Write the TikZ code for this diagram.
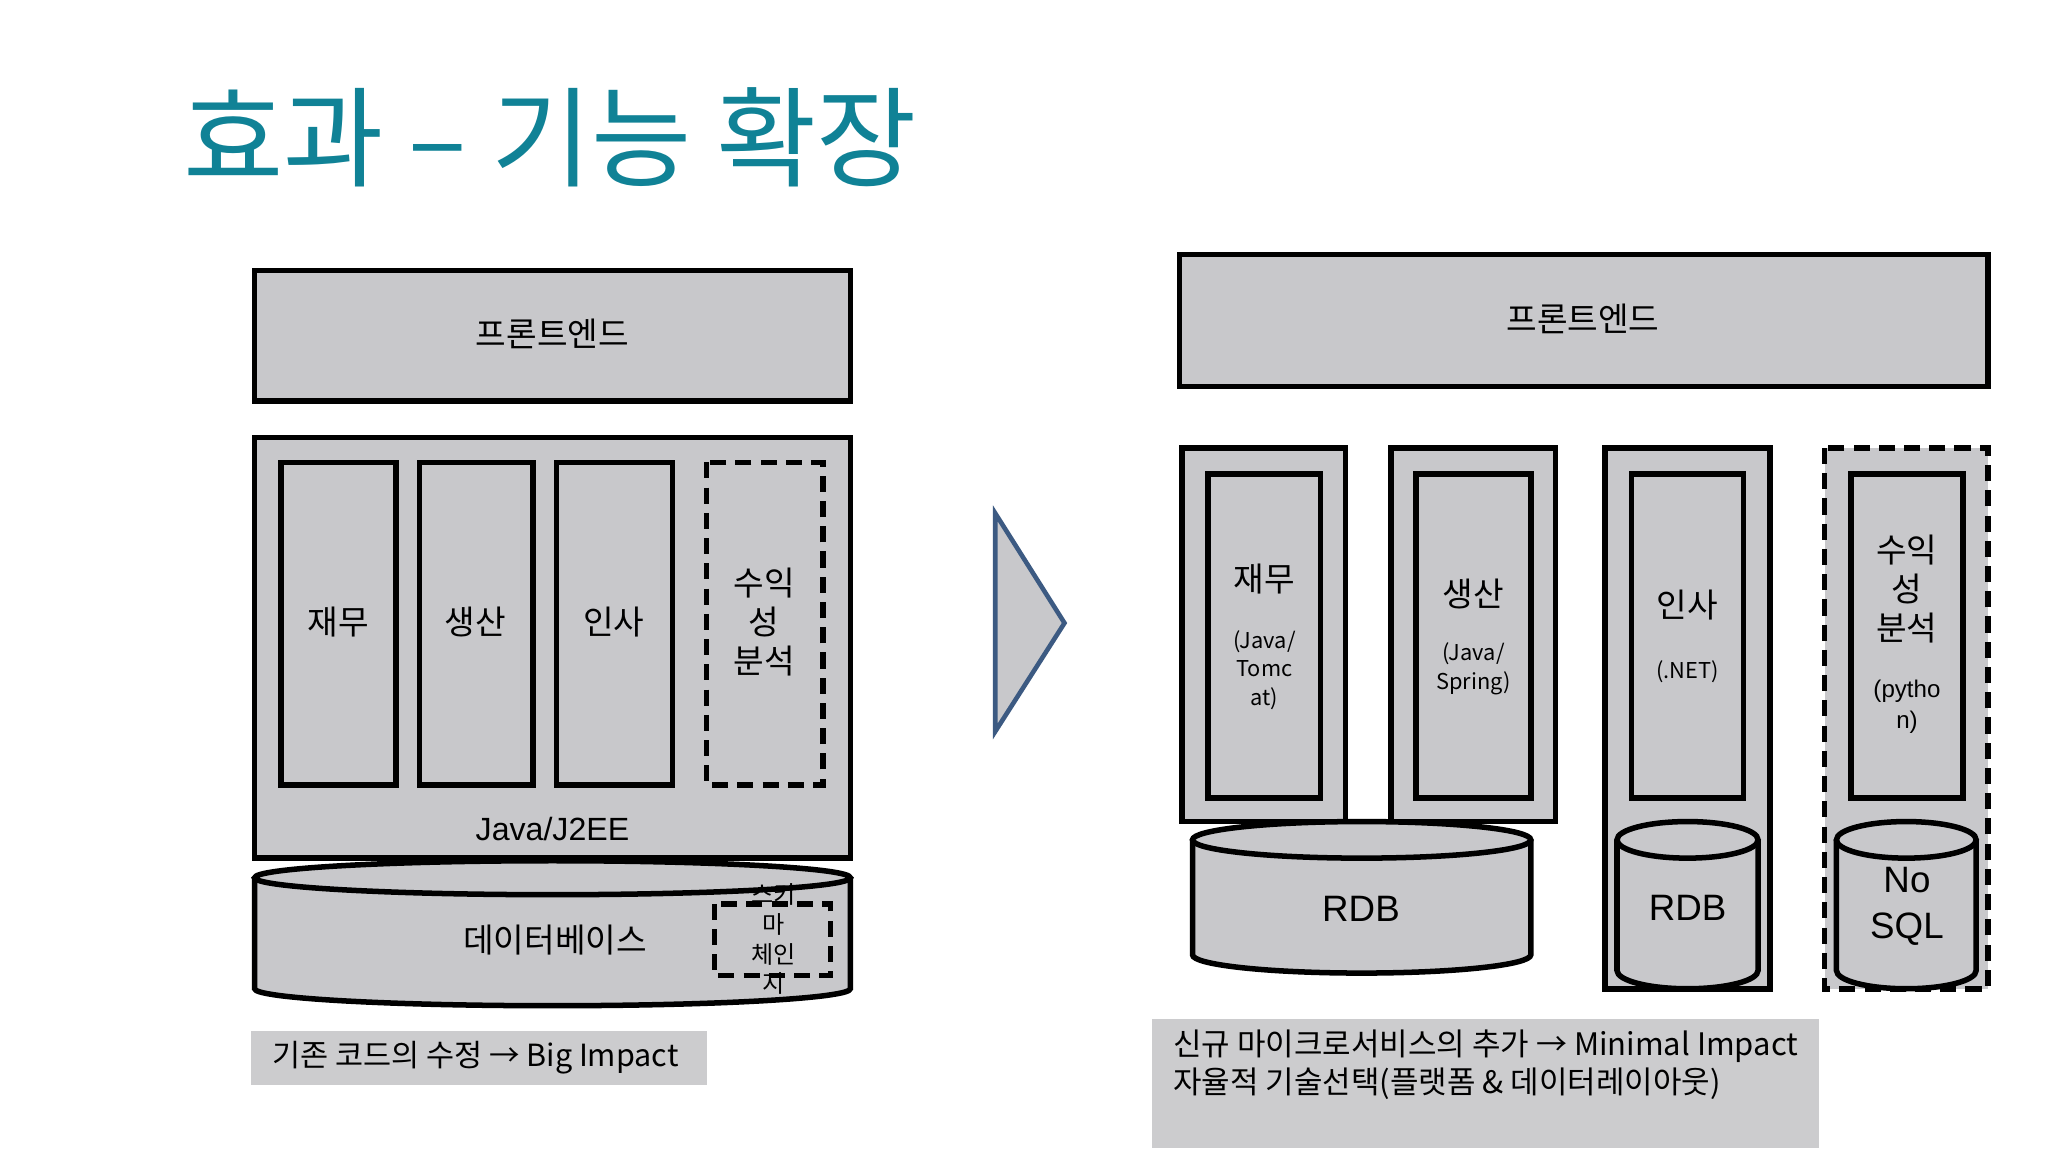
\documentclass[tikz,border=0pt]{standalone}
\usepackage{fontspec}
\setmainfont{Liberation Sans}
\newfontfamily\kr{Noto Sans CJK KR}
\definecolor{boxg}{RGB}{200,200,203}
\definecolor{capg}{RGB}{204,204,206}
\definecolor{teal}{RGB}{16,130,150}
\definecolor{arrb}{RGB}{60,90,130}
\tikzset{
 blk/.style={draw=black,line width=2.4pt,fill=boxg},
 dsh/.style={draw=black,line width=2.4pt,dash pattern=on 7pt off 4pt},
 lbl/.style={font=\kr\fontsize{14.5}{17}\selectfont,align=center,inner sep=0pt},
 sml/.style={font=\kr\fontsize{9.5}{12.5}\selectfont,align=center,inner sep=0pt},
 big/.style={font=\fontsize{16}{19}\selectfont,align=center,inner sep=0pt},
}
\newcommand\mycyl[5]{%
 \pgfmathsetmacro\rx{(#2-#1)/2*0.02}%
 \pgfmathsetmacro\ry{#5*0.02}%
 \pgfmathsetmacro\cx{(#1+#2)/2}%
 \draw[blk] (#1,#3) -- (#1,#4) arc[start angle=180,end angle=360,x radius=\rx cm,y radius=\ry cm] -- (#2,#3);
 \draw[blk] (\cx,#3) ellipse[x radius=\rx cm,y radius=\ry cm];
}
\begin{document}
\begin{tikzpicture}[x=0.02cm,y=-0.02cm]
\useasboundingbox[fill=white] (0,0) rectangle (1568,882);
\node[anchor=west,text=teal,font=\kr\fontsize{47.5}{52}\selectfont,inner sep=0pt] (title) at (140,105) {효과 – 기능 확장};
% left
\draw[blk] (195,207) rectangle (651,307);
\node[lbl] (lfe) at (423,256) {프론트엔드};
\draw[blk] (195,335) rectangle (651,657);
\draw[blk] (215,354) rectangle (303,601); \node[lbl] (l1) at (259,476) {재무};
\draw[blk] (321,354) rectangle (408,601); \node[lbl] (l2) at (364,476) {생산};
\draw[blk] (426,354) rectangle (515,601); \node[lbl] (l3) at (470,476) {인사};
\draw[dsh] (541,354) rectangle (630,601); \node[lbl] (l4) at (585,476) {수익\\성\\분석};
\node[lbl,font=\fontsize{14}{17}\selectfont] (java) at (423,635) {Java/J2EE};
\mycyl{195}{651}{672}{757}{13}
\node[lbl] (db) at (425,720) {데이터베이스};
\draw[dsh] (547,692) rectangle (636,747);
\node[sml,font=\kr\fontsize{10.5}{13}\selectfont] (sch) at (592,719) {스키\\마\\체인\\지};
\fill[capg] (192,789) rectangle (541,831);
\node[anchor=west,font=\kr\fontsize{13.3}{15}\selectfont,inner sep=0pt] (lcap) at (208,810) {기존 코드의 수정 → Big Impact};
% arrow
\draw[fill=boxg,draw=arrb,line width=2pt] (762,393) -- (815,477) -- (762,560) -- cycle;
% right
\draw[blk] (903,195) rectangle (1522,296);
\node[lbl] (rfe) at (1212,244) {프론트엔드};
\draw[blk] (905,343) rectangle (1030,629);
\draw[blk] (1065,343) rectangle (1191,629);
\draw[blk] (1229,343) rectangle (1355,757);
\fill[boxg] (1397,343) rectangle (1522,757);
\draw[dsh] (1397,343) rectangle (1522,757);
\draw[blk] (925,363) rectangle (1011,611);
\draw[blk] (1084,363) rectangle (1172,611);
\draw[blk] (1249,363) rectangle (1335,611);
\draw[blk] (1417,363) rectangle (1503,611);
\node[lbl] (r1) at (968,443) {재무};
\node[sml] (r1s) at (968,513) {(Java/\\Tomc\\at)};
\node[lbl] (r2) at (1128,455) {생산};
\node[sml] (r2s) at (1128,512) {(Java/\\Spring)};
\node[lbl] (r3) at (1292,463) {인사};
\node[sml] (r3s) at (1292,514) {(.NET)};
\node[lbl] (r4) at (1460,451) {수익\\성\\분석};
\node[sml,font=\fontsize{10.5}{13.5}\selectfont] (r4s) at (1460,541) {(pytho\\n)};
\mycyl{913}{1172}{643}{731}{14}
\node[big] (rdb1) at (1042,696) {RDB};
\mycyl{1238}{1346}{643}{743}{14}
\node[big] (rdb2) at (1292,695) {RDB};
\mycyl{1406}{1513}{643}{743}{14}
\node[big,font=\fontsize{16}{20}\selectfont] (nosql) at (1460,694) {No\\SQL};
\fill[capg] (882,780) rectangle (1393,879);
\node[anchor=north west,align=left,font=\kr\fontsize{13.5}{16.5}\selectfont,inner sep=0pt] (rcap) at (898,788) {신규 마이크로서비스의 추가 → Minimal Impact\\자율적 기술선택(플랫폼 \& 데이터레이아웃)};
\end{tikzpicture}
\end{document}
